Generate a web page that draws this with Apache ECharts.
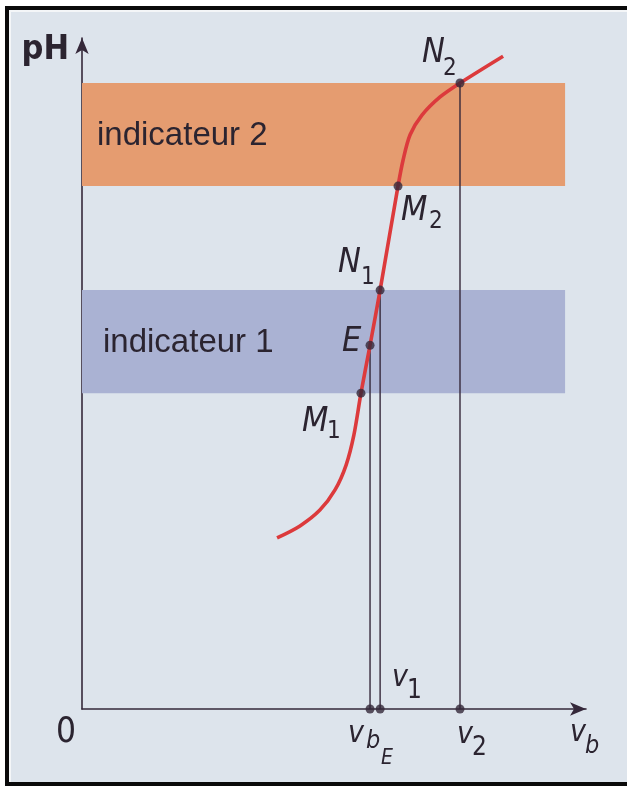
<!DOCTYPE html>
<html>
<head>
<meta charset="utf-8">
<script src="https://cdn.jsdelivr.net/npm/echarts@6/dist/echarts.min.js"></script>
<style>
html,body{margin:0;padding:0;background:#fff;}
#chart{width:627px;height:786px;}
</style>
</head>
<body>
<div id="chart"></div>
<script>
// courbe de titrage pH = f(vb)
var curveV  = [7.74, 8.65, 9.44, 10.04, 10.48, 10.79, 11.07, 11.43, 11.83, 12.54, 12.74, 13.02, 13.49, 14.21, 15.0, 16.71];
var curvePH = [3.57, 3.82, 4.15, 4.57, 5.09, 5.72, 6.59, 7.59, 8.74, 10.91, 11.45, 11.98, 12.39, 12.77, 13.06, 13.62];

// points remarquables
var pointNames = ['M1', 'E', 'N1', 'M2', 'N2'];
var pointV  = [11.07, 11.43, 11.83, 12.54, 15.0];
var pointPH = [6.59, 7.59, 8.74, 10.91, 13.06];

// zones de virage des indicateurs
var bandNames = ['indicateur 1', 'indicateur 2'];
var bandLow  = [6.59, 10.91];
var bandHigh = [8.74, 13.06];
var bandEnd = 19.17;

// traits verticaux jusqu'a l'axe des abscisses
var dropPoints = ['E', 'N1', 'N2'];
var xMax = 20, yMax = 14;

var ink = '#35283a';
var narrow = "'DejaVu Sans Condensed', 'Liberation Sans', sans-serif";
var bandColors = ['#aab2d3', '#e59c70'];

var chart = echarts.init(document.getElementById('chart'), null, {renderer: 'canvas'});

function idx(name) { return pointNames.indexOf(name); }

var series = [];

// bandes colorees
series.push({
	type: 'line',
	data: [],
	silent: true,
	z: 1,
	markArea: {
		silent: true,
		data: bandNames.map(function (n, i) {
			return [{
				name: n,
				coord: [0, bandLow[i]],
				itemStyle: {color: bandColors[i], opacity: 1},
				label: {
					show: true,
					position: 'insideLeft',
					offset: [i == 0 ? 16 : 10, 1],
					color: '#2b2430',
					fontFamily: "'Liberation Sans', Arial, sans-serif",
					fontSize: 33
				}
			}, {coord: [bandEnd, bandHigh[i]]}];
		})
	}
});

// traits verticaux
dropPoints.forEach(function (n) {
	var i = idx(n);
	series.push({
		type: 'line',
		data: [[pointV[i], 0], [pointV[i], pointPH[i]]],
		symbol: 'none',
		silent: true,
		z: 2,
		lineStyle: {color: ink, width: 1.4}
	});
});

// courbe
series.push({
	type: 'line',
	data: curveV.map(function (v, i) { return [v, curvePH[i]]; }),
	smooth: 0.3,
	symbol: 'none',
	z: 3,
	lineStyle: {color: '#dc3a3c', width: 3.6}
});

// points sur la courbe et sur l'axe
series.push({
	type: 'scatter',
	symbolSize: 9,
	z: 4,
	itemStyle: {color: ink},
	data: pointNames.map(function (n, i) { return [pointV[i], pointPH[i]]; })
		.concat(dropPoints.map(function (n) { return [pointV[idx(n)], 0]; }))
});

chart.setOption({
	backgroundColor: '#dde4ec',
	animation: false,
	grid: {left: 82, right: 41, top: 38, bottom: 77},
	xAxis: {
		type: 'value', min: 0, max: xMax,
		axisLine: {show: true, symbol: ['none', 'arrow'], symbolSize: [10, 16], lineStyle: {color: ink, width: 1.6}},
		axisTick: {show: false}, axisLabel: {show: false}, splitLine: {show: false}
	},
	yAxis: {
		type: 'value', min: 0, max: yMax,
		axisLine: {show: true, symbol: ['none', 'arrow'], symbolSize: [10, 16], lineStyle: {color: ink, width: 1.6}},
		axisTick: {show: false}, axisLabel: {show: false}, splitLine: {show: false}
	},
	series: series
});

// etiquettes : [texte, style, dx, dy] par rapport au point d'ancrage
var styles = {
	it:   {fontSize: 34, fontStyle: 'italic', fontFamily: narrow},
	sub:  {fontSize: 24, fontFamily: narrow},
	v:    {fontSize: 30, fontStyle: 'italic', fontFamily: narrow},
	b:    {fontSize: 25, fontStyle: 'italic', fontFamily: narrow},
	e:    {fontSize: 21, fontStyle: 'italic', fontFamily: narrow},
	num:  {fontSize: 26, fontFamily: narrow},
	zero: {fontSize: 35, fontFamily: narrow},
	ph:   {fontSize: 34, fontWeight: 'bold', fontFamily: narrow}
};
var pointLabels = {
	N2: [['N', 'it', -38, -30], ['2', 'sub', -17, -14]],
	M2: [['M', 'it', 3, 25], ['2', 'sub', 31, 36]],
	N1: [['N', 'it', -42, -27], ['1', 'sub', -19, -12]],
	E:  [['E', 'it', -28, -3]],
	M1: [['M', 'it', -59, 29], ['1', 'sub', -34, 39]]
};
var axisLabels = {
	E:  [['v', 'v', -22, 25], ['b', 'b', -4, 32], ['E', 'e', 11, 50]],
	N1: [['v', 'v', 12, -31], ['1', 'num', 27, -18]],
	N2: [['v', 'v', -3, 26], ['2', 'num', 12, 39]]
};

function makeText(part, px, align) {
	var st = styles[part[1]];
	return {
		type: 'text',
		x: px[0] + part[2],
		y: px[1] + part[3],
		silent: true,
		z: 10,
		style: {
			text: part[0],
			fill: '#2b2430',
			fontSize: st.fontSize,
			fontStyle: st.fontStyle || 'normal',
			fontWeight: st.fontWeight || 'normal',
			fontFamily: st.fontFamily,
			align: align || 'left',
			verticalAlign: 'middle'
		}
	};
}

var texts = [];
Object.keys(pointLabels).forEach(function (n) {
	var i = idx(n);
	var px = chart.convertToPixel({gridIndex: 0}, [pointV[i], pointPH[i]]);
	pointLabels[n].forEach(function (p) { texts.push(makeText(p, px)); });
});
Object.keys(axisLabels).forEach(function (n) {
	var px = chart.convertToPixel({gridIndex: 0}, [pointV[idx(n)], 0]);
	axisLabels[n].forEach(function (p) { texts.push(makeText(p, px)); });
});
var origin = chart.convertToPixel({gridIndex: 0}, [0, 0]);
var xEnd = chart.convertToPixel({gridIndex: 0}, [xMax, 0]);
var yEnd = chart.convertToPixel({gridIndex: 0}, [0, yMax]);
texts.push(makeText(['0', 'zero', -16, 24], origin, 'center'));
texts.push(makeText(['v', 'v', -16, 24], xEnd));
texts.push(makeText(['b', 'b', -1, 37], xEnd));
texts.push(makeText(['pH', 'ph', -13, 12], yEnd, 'right'));

// cadre noir du document scanne
var frame = [
	{type: 'rect', shape: {x: 0, y: 0, width: 627, height: 6}, style: {fill: '#fff'}},
	{type: 'rect', shape: {x: 0, y: 0, width: 5, height: 786}, style: {fill: '#fff'}},
	{type: 'rect', shape: {x: 5, y: 6, width: 622, height: 4}, style: {fill: '#0a0a0a'}},
	{type: 'rect', shape: {x: 5, y: 6, width: 4, height: 780}, style: {fill: '#0a0a0a'}},
	{type: 'rect', shape: {x: 5, y: 782, width: 622, height: 4}, style: {fill: '#0a0a0a'}},
	{type: 'rect', shape: {x: 9, y: 10, width: 618, height: 2}, style: {fill: '#f4f6f8'}},
	{type: 'rect', shape: {x: 9, y: 10, width: 2, height: 772}, style: {fill: '#f4f6f8'}}
];

chart.setOption({graphic: frame.concat(texts)});
</script>
</body>
</html>
